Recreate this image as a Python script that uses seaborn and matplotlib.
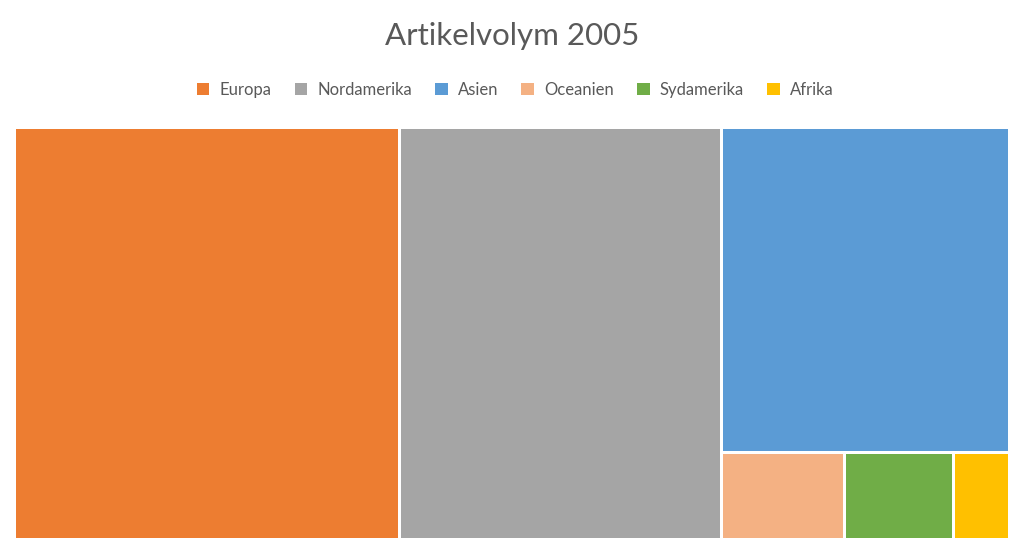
import matplotlib
matplotlib.use("Agg")
import matplotlib.pyplot as plt
import matplotlib.patches as mpatches
import seaborn as sns

# =========================
# Data
# =========================
regions = ["Europa", "Nordamerika", "Asien", "Oceanien", "Sydamerika", "Afrika"]
volume = [38.7, 32.3, 22.8, 2.6, 2.3, 1.2]
colors = ["#ED7D31", "#A5A5A5", "#5B9BD5", "#F4B183", "#70AD47", "#FFC000"]

sns.set_theme(style="white")
plt.rcParams["font.family"] = ["Lato", "DejaVu Sans"]


# =========================
# Squarified layout
# =========================
def worst(row, side):
    s = sum(row)
    return max(max(side * side * r / (s * s), (s * s) / (side * side * r)) for r in row)


def layout_row(row, x, y, w, h):
    s = sum(row)
    rects = []
    if w >= h:
        # column on the left, full height
        cw = s / h
        yy = y + h
        for r in row:
            rh = r / cw
            yy -= rh
            rects.append((x, yy, cw, rh))
        return rects, (x + cw, y, w - cw, h)
    else:
        # row across the top, full width
        rh = s / w
        xx = x
        for r in row:
            rw = r / rh
            rects.append((xx, y + h - rh, rw, rh))
            xx += rw
        return rects, (x, y, w, h - rh)


def squarify(sizes, x, y, w, h):
    total = sum(sizes)
    areas = [v * w * h / total for v in sizes]
    rects = []
    row = []
    i = 0
    while i < len(areas):
        side = min(w, h)
        a = areas[i]
        if not row or worst(row + [a], side) <= worst(row, side):
            row.append(a)
            i += 1
        else:
            r, (x, y, w, h) = layout_row(row, x, y, w, h)
            rects += r
            row = []
    if row:
        r, _ = layout_row(row, x, y, w, h)
        rects += r
    return rects


W, H = 996, 413
rects = squarify(volume, 0, 0, W, H)

fig = plt.figure(figsize=(10.24, 5.55), dpi=100)
ax = fig.add_axes([14 / 1024, 15 / 555, W / 1024, H / 555])
gap = 1.6
for (rx, ry, rw, rh), c in zip(rects, colors):
    ax.add_patch(mpatches.Rectangle((rx + gap, ry + gap), rw - 2 * gap, rh - 2 * gap,
                                    facecolor=c, edgecolor="none"))
ax.set_xlim(0, W)
ax.set_ylim(0, H)
ax.axis("off")

fig.text(0.5, 1 - 36 / 555, "Artikelvolym 2005", ha="center", va="center",
         fontsize=22.5, color="#595959")

handles = [mpatches.Patch(facecolor=c, edgecolor="none", label=r) for r, c in zip(regions, colors)]
fig.legend(handles=handles, loc="center", bbox_to_anchor=(0.503, 1 - 90 / 555), ncol=6,
           frameon=False, fontsize=12, labelcolor="#595959",
           handlelength=0.75, handleheight=0.75, handletextpad=0.6, columnspacing=1.4)

fig.savefig("out.png", dpi=100, facecolor="white")
